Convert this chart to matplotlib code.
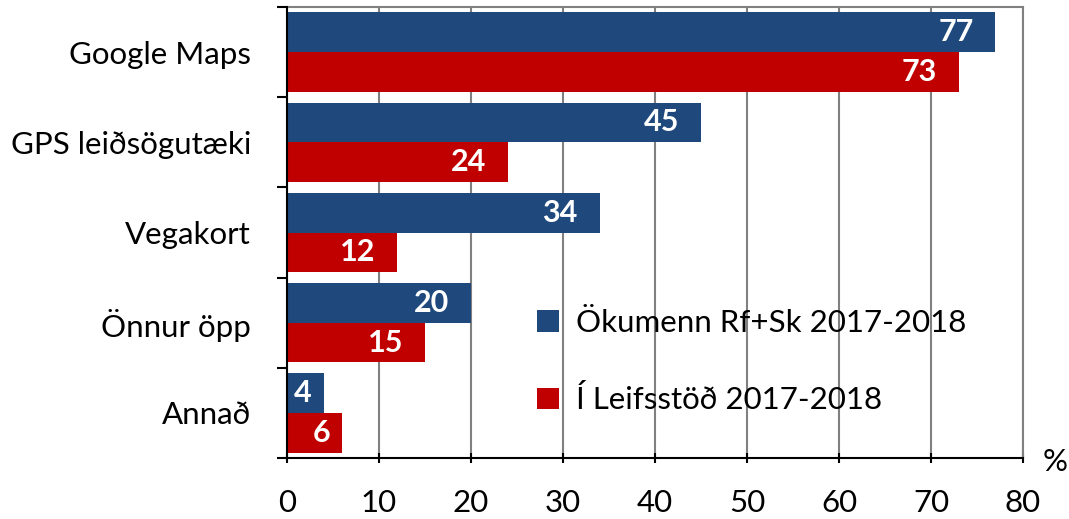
import matplotlib
matplotlib.use("Agg")
import matplotlib.pyplot as plt
import numpy as np
from matplotlib.ticker import FixedLocator

categories = ["Google Maps", "GPS leiðsögutæki", "Vegakort", "Önnur öpp", "Annað"]
series_names = ["Ökumenn Rf+Sk 2017-2018", "Í Leifsstöð 2017-2018"]
okumenn = [77, 45, 34, 20, 4]
leifsstod = [73, 24, 12, 15, 6]
x_ticks = [0, 10, 20, 30, 40, 50, 60, 70, 80]

plt.rcParams['font.family'] = ['Lato', 'DejaVu Sans']
BLUE = "#1F497D"
RED = "#C00000"
FS = 22.5

fig = plt.figure(figsize=(10.69, 5.19), dpi=100)
ax = fig.add_axes([287/1069, 1-458/519, (1023-287)/1069, (458-7)/519])

y = np.arange(len(categories))
h = 0.44
b1 = ax.barh(y - h/2, okumenn, height=h, color=BLUE, label=series_names[0], zorder=3)
b2 = ax.barh(y + h/2, leifsstod, height=h, color=RED, label=series_names[1], zorder=3)

for bars, vals in ((b1, okumenn), (b2, leifsstod)):
    for rect, v in zip(bars, vals):
        off = -22 if v >= 10 else -12
        ax.annotate(str(v), (rect.get_width(), rect.get_y() + rect.get_height()/2),
                    xytext=(off*0.72, 0), textcoords='offset points',
                    ha='right', va='center', color='white', fontweight='bold',
                    fontsize=22, zorder=5)

ax.set_xlim(0, 80)
ax.set_ylim(len(categories) - 0.5, -0.5)
ax.set_xticks(x_ticks)
ax.set_xticklabels([str(t) for t in x_ticks], fontsize=FS)
ax.yaxis.set_major_locator(FixedLocator(np.arange(-0.5, len(categories), 1.0)))
ax.yaxis.set_major_formatter(plt.NullFormatter())
ax.yaxis.set_minor_locator(FixedLocator(y))
ax.set_yticklabels(categories, minor=True, fontsize=FS)
ax.tick_params(axis='y', which='major', length=7, width=1.5, direction='out', color='black')
ax.tick_params(axis='y', which='minor', length=0, pad=26)
ax.tick_params(axis='x', which='major', length=7, width=1.5, direction='inout', color='black', pad=19)

ax.grid(axis='x', color='#808080', linewidth=1.5, zorder=0)
ax.set_axisbelow(True)
for s in ('top', 'right'):
    ax.spines[s].set_color('#808080')
    ax.spines[s].set_linewidth(1.5)
for s in ('left', 'bottom'):
    ax.spines[s].set_color('black')
    ax.spines[s].set_linewidth(1.5)
    ax.spines[s].set_zorder(4)

leg = ax.legend(loc='upper left', bbox_to_anchor=(537/1069, 1-309/519),
                bbox_transform=fig.transFigure, frameon=False, fontsize=FS,
                handlelength=0.7, handleheight=0.7, handletextpad=0.55,
                labelspacing=1.55, borderpad=0, borderaxespad=0)

fig.text(1055/1069, 1-462/519, "%", fontsize=FS, ha='center', va='center')

fig.savefig("out.png", dpi=100)
